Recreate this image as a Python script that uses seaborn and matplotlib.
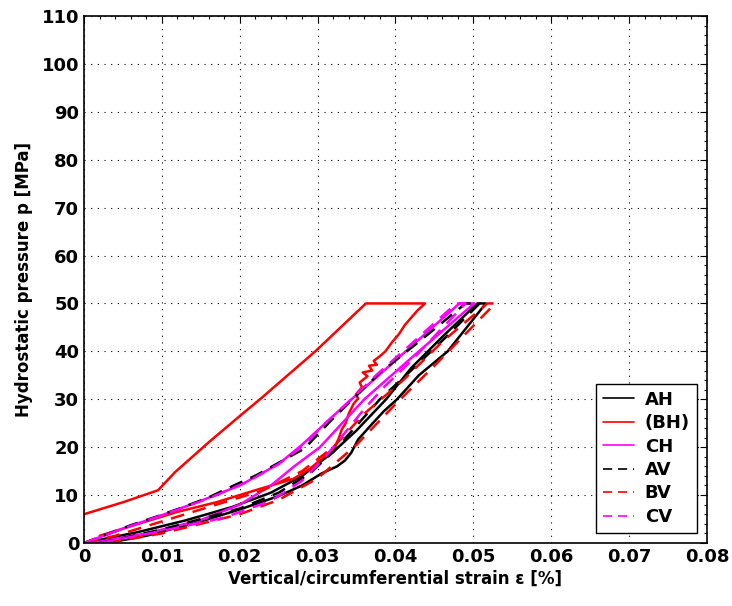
import matplotlib
matplotlib.use("Agg")
import matplotlib.pyplot as plt
from matplotlib.ticker import MultipleLocator
import seaborn as sns
import pandas as pd

sns.set_theme(style="white")
plt.rcParams['font.family'] = ['DejaVu Sans']
plt.rcParams['font.weight'] = 'bold'
plt.rcParams['axes.labelcolor'] = 'black'
plt.rcParams['text.color'] = 'black'

# strain [%] and pressure [MPa], loading branch then unloading branch
ah_eps = [0.003, 0.008, 0.015, 0.020, 0.025, 0.028, 0.0305, 0.0325, 0.0335, 0.0343,
          0.0352, 0.0368, 0.0385, 0.0402, 0.043, 0.0467, 0.0516, 0.0505,
          0.046, 0.042, 0.0388, 0.035, 0.032, 0.028, 0.024, 0.019, 0.013, 0.007, 0.000]
ah_p = [0.0, 1.5, 4.5, 7.0, 9.8, 12.0, 14.5, 16.0, 17.2, 18.8,
        21.6, 24.5, 27.5, 30.0, 35.0, 40.0, 50.0, 50.0,
        43.0, 36.5, 30.0, 23.5, 19.0, 14.0, 10.5, 7.5, 4.7, 2.3, 0.0]

bh_eps = [0.000, 0.005, 0.0095, 0.0117, 0.016, 0.020, 0.0226, 0.0297, 0.0362,
          0.0438, 0.0428, 0.0420, 0.0412, 0.0404, 0.0396, 0.0387, 0.0380, 0.0372,
          0.0376, 0.0366, 0.0370, 0.0358, 0.0364, 0.0354, 0.0357, 0.0349, 0.0352,
          0.0346, 0.0340, 0.0336, 0.0331, 0.0327, 0.0322, 0.0305, 0.0290,
          0.0269, 0.022, 0.017, 0.012, 0.007, 0.002]
bh_p = [6.0, 8.5, 11.0, 14.8, 21.0, 26.5, 30.0, 40.0, 50.0,
        50.0, 48.5, 47.0, 45.5, 43.5, 42.0, 40.0, 39.0, 38.0,
        37.2, 37.0, 36.0, 35.6, 34.8, 33.5, 32.5, 31.0, 30.2,
        29.0, 27.0, 25.0, 23.7, 21.8, 20.0, 17.5, 15.5,
        13.4, 11.0, 8.5, 6.5, 4.0, 1.5]

ch_eps = [0.001, 0.008, 0.015, 0.020, 0.024, 0.027, 0.0303, 0.036, 0.043, 0.0501, 0.0482,
          0.042, 0.0375, 0.034, 0.031, 0.028, 0.025, 0.020, 0.015, 0.010, 0.005, 0.000]
ch_p = [0.0, 2.0, 4.8, 8.0, 12.0, 16.0, 20.0, 30.0, 40.0, 50.0, 50.0,
        41.0, 34.5, 29.5, 25.0, 20.5, 16.5, 12.0, 8.8, 5.8, 3.0, 0.0]

av_eps = [0.002, 0.010, 0.020, 0.025, 0.029, 0.032, 0.035, 0.038, 0.042, 0.0465, 0.0508,
          0.049, 0.043, 0.038, 0.0345, 0.0318, 0.0283, 0.0255, 0.0222, 0.0187, 0.016,
          0.0126, 0.0093, 0.006, 0.000]
av_p = [0.0, 2.8, 7.2, 10.5, 14.5, 19.0, 24.5, 30.0, 36.0, 43.0, 50.0,
        50.0, 42.0, 35.5, 30.0, 25.7, 19.7, 17.2, 14.2, 11.6, 9.5,
        7.4, 5.5, 3.7, 0.0]

bv_eps = [0.003, 0.010, 0.020, 0.025, 0.030, 0.035, 0.040, 0.045, 0.0528, 0.0518,
          0.046, 0.041, 0.036, 0.032, 0.028, 0.023, 0.019, 0.014, 0.009, 0.004, 0.000]
bv_p = [0.0, 2.0, 6.0, 9.0, 13.5, 20.5, 29.0, 37.0, 50.0, 50.0,
        42.0, 34.0, 27.0, 20.0, 15.0, 11.0, 9.0, 6.5, 4.0, 1.5, 0.0]

cv_eps = [0.002, 0.010, 0.018, 0.024, 0.028, 0.031, 0.0335, 0.036, 0.0385, 0.042, 0.049,
          0.0478, 0.042, 0.0375, 0.034, 0.031, 0.0283, 0.025, 0.021, 0.016, 0.010, 0.005, 0.000]
cv_p = [0.0, 2.5, 5.3, 8.8, 13.0, 18.0, 23.0, 28.0, 32.5, 38.0, 50.0,
        50.0, 41.5, 35.0, 29.5, 25.0, 20.5, 16.5, 12.8, 9.3, 5.8, 3.0, 0.0]

labels = ['AH', '(BH)', 'CH', 'AV', 'BV', 'CV']
colors = ['black', 'red', 'magenta', 'black', 'red', 'magenta']
styles = ['-', '-', '-', '--', '--', '--']
series = [(ah_eps, ah_p), (bh_eps, bh_p), (ch_eps, ch_p),
          (av_eps, av_p), (bv_eps, bv_p), (cv_eps, cv_p)]
xticks = [0, 0.01, 0.02, 0.03, 0.04, 0.05, 0.06, 0.07, 0.08]
xticklabels = ['0', '0.01', '0.02', '0.03', '0.04', '0.05', '0.06', '0.07', '0.08']

fig = plt.figure(figsize=(7.32, 6.06), dpi=100)
ax = fig.add_axes([0.1148, 0.104, 0.851, 0.8696])

for (eps, p), lab, c, ls in zip(series, labels, colors, styles):
    df = pd.DataFrame({'eps': eps, 'p': p})
    sns.lineplot(x='eps', y='p', data=df, sort=False, estimator=None,
                 color=c, lw=1.8, label=lab, ax=ax)
    line = ax.get_lines()[-1]
    if ls == '--':
        line.set_dashes((5.5, 3.5))

ax.set_xlim(0, 0.08)
ax.set_ylim(0, 110)
ax.set_xticks(xticks)
ax.set_xticklabels(xticklabels)
ax.yaxis.set_major_locator(MultipleLocator(10))
ax.xaxis.set_minor_locator(MultipleLocator(0.002))
ax.yaxis.set_minor_locator(MultipleLocator(2))

ax.tick_params(which='both', direction='in', top=True, right=True, colors='black',
               labelsize=13, width=0.8)
ax.tick_params(which='major', length=5)
ax.tick_params(which='minor', length=2.5)
for lbl in ax.get_xticklabels() + ax.get_yticklabels():
    lbl.set_fontweight('bold')

ax.grid(True, which='major', color='black', linestyle=(0, (1, 5)), linewidth=0.8)
for s in ax.spines.values():
    s.set_color('black')
    s.set_linewidth(1.2)

ax.set_xlabel('Vertical/circumferential strain ε [%]', fontsize=12, fontweight='bold',
              color='black', labelpad=3)
ax.set_ylabel('Hydrostatic pressure p [MPa]', fontsize=12, fontweight='bold',
              color='black', labelpad=6)

leg = ax.legend(loc='lower right', fontsize=13, frameon=True, fancybox=False,
                edgecolor='black', framealpha=1, handlelength=1.7, handletextpad=0.6,
                borderaxespad=0.55, labelspacing=0.3, borderpad=0.4)
leg.get_frame().set_linewidth(1.0)
for t in leg.get_texts():
    t.set_fontweight('bold')
    t.set_color('black')
for h in leg.get_lines():
    h.set_linewidth(1.2)

fig.savefig('out.png', dpi=100)
